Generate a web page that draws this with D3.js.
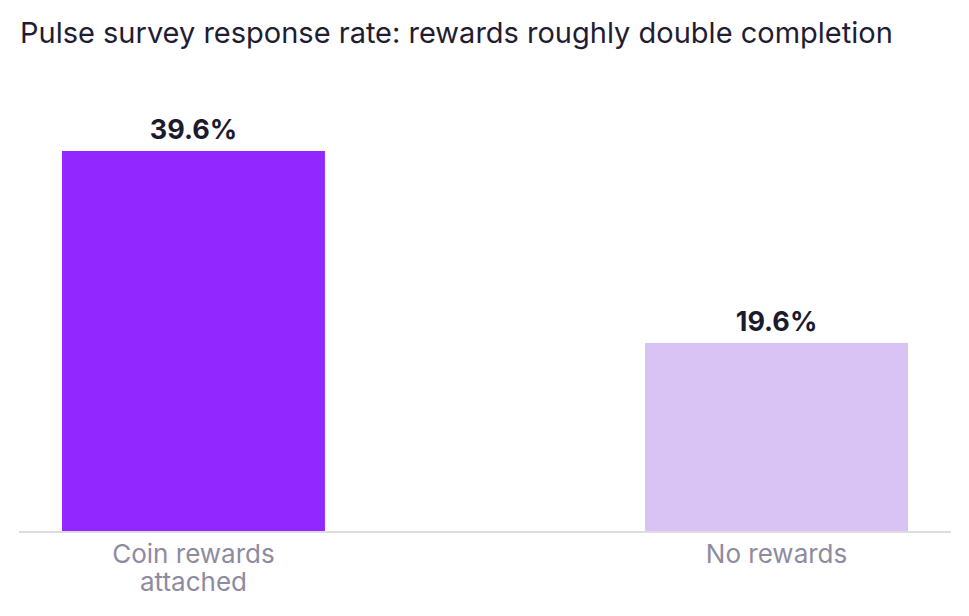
<!DOCTYPE html>
<html>
<head>
<meta charset="utf-8">
<script src="https://cdn.jsdelivr.net/npm/d3@7"></script>
<style>
  body { margin: 0; background: #fff; }
</style>
</head>
<body>
<script>
var width = 969;
var height = 616;

var categories = [["Coin rewards", "attached"], ["No rewards"]];
var rates = [39.6, 19.6];
var barColors = ["#9327ff", "#d9c3f5"];

var margin = {top: 151, right: 19, bottom: 85, left: 20};

var svg = d3.select("body")
    .append("svg")
    .attr("width", width)
    .attr("height", height)
    .style("font-family", "Inter, sans-serif");

svg.append("text")
    .attr("x", 20)
    .attr("y", 43)
    .attr("fill", "#1f1d33")
    .attr("font-size", "29px")
    .text("Pulse survey response rate: rewards roughly double completion");

var keys = categories.map(function(c) { return c.join(" "); });

var x = d3.scaleBand()
    .domain(keys)
    .range([margin.left, width - margin.right])
    .paddingInner(0.549)
    .paddingOuter(0.072);

var y = d3.scaleLinear()
    .domain([0, d3.max(rates)])
    .range([height - margin.bottom, margin.top]);

// bars
svg.selectAll(".bar")
    .data(rates)
    .join("rect")
    .attr("class", "bar")
    .attr("x", function(d, i) { return x(keys[i]); })
    .attr("y", function(d) { return y(d); })
    .attr("width", x.bandwidth())
    .attr("height", function(d) { return y(0) - y(d); })
    .attr("fill", function(d, i) { return barColors[i]; });

// baseline
svg.append("line")
    .attr("x1", margin.left - 1)
    .attr("x2", width - margin.right + 1)
    .attr("y1", y(0) + 1)
    .attr("y2", y(0) + 1)
    .attr("stroke", "#dddbe6")
    .attr("stroke-width", 2);

// value labels
svg.selectAll(".value")
    .data(rates)
    .join("text")
    .attr("class", "value")
    .attr("x", function(d, i) { return x(keys[i]) + x.bandwidth() / 2; })
    .attr("y", function(d) { return y(d) - 12; })
    .attr("text-anchor", "middle")
    .attr("font-size", "27px")
    .attr("font-weight", 700)
    .attr("fill", "#1c1b2e")
    .text(function(d) { return d.toFixed(1) + "%"; });

// category labels
var labels = svg.selectAll(".cat")
    .data(categories)
    .join("text")
    .attr("class", "cat")
    .attr("text-anchor", "middle")
    .attr("font-size", "26px")
    .attr("fill", "#8e8ba0");

labels.selectAll("tspan")
    .data(function(d, i) { return d.map(function(line, j) { return {line: line, j: j, key: keys[i]}; }); })
    .join("tspan")
    .attr("x", function(d) { return x(d.key) + x.bandwidth() / 2; })
    .attr("y", function(d) { return y(0) + 32 + d.j * 28; })
    .text(function(d) { return d.line; });
</script>
</body>
</html>
